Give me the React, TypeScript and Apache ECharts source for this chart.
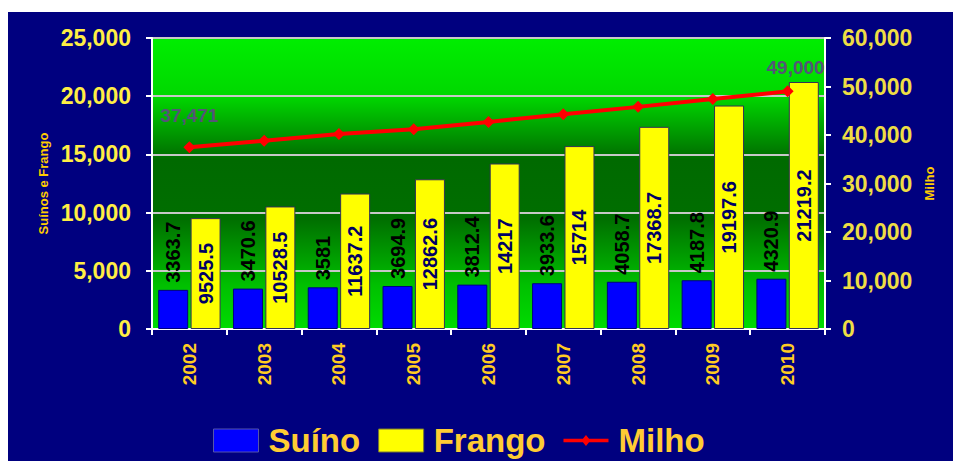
import React, { useEffect, useRef } from "react";
import * as echarts from "echarts";

const years = ["2002", "2003", "2004", "2005", "2006", "2007", "2008", "2009", "2010"];
const suino = [3363.7, 3470.6, 3581, 3694.9, 3812.4, 3933.6, 4058.7, 4187.8, 4320.9];
const frango = [9525.5, 10528.5, 11637.2, 12862.6, 14217, 15714, 17368.7, 19197.6, 21219.2];
const milho = [37471, 38800, 40200, 41200, 42700, 44300, 45800, 47400, 49000];

const fmt = (v: number) => Math.round(v).toString().replace(/\B(?=(\d{3})+(?!\d))/g, ",");

const SANS = '"Liberation Sans", Arial, sans-serif';

export default function App() {
  const ref = useRef<HTMLDivElement>(null);
  useEffect(() => {
    if (!ref.current) return;
    const chart = echarts.init(ref.current, undefined, { renderer: "svg" });
    chart.setOption({
      animation: false,
      backgroundColor: "#00007f",
      grid: {
        left: 144,
        top: 26,
        right: 128,
        bottom: 132,
        show: true,
        borderWidth: 0,
        backgroundColor: new echarts.graphic.LinearGradient(0, 0, 0, 1, [
          { offset: 0, color: "#00ee00" },
          { offset: 0.2, color: "#00d800" },
          { offset: 0.42, color: "#006a00" },
          { offset: 0.62, color: "#006e00" },
          { offset: 0.85, color: "#00c000" },
          { offset: 1, color: "#00dc00" },
        ]),
      },
      legend: {
        left: 200,
        top: 407,
        itemWidth: 45,
        itemHeight: 23,
        itemGap: 18,
        textStyle: {
          color: "#ffcc33",
          fontSize: 33,
          fontWeight: "bold",
          fontFamily: SANS,
          padding: [0, 0, 0, 5],
        },
        data: [
          { name: "Suíno", icon: "rect", itemStyle: { borderColor: "#5555aa", borderWidth: 1 } },
          { name: "Frango", icon: "rect", itemStyle: { borderColor: "#777733", borderWidth: 1 } },
          { name: "Milho", icon: "path://M0,10 L50,10 L50,14 L0,14 Z M25,6 L30,12 L25,18 L20,12 Z" },
        ],
      },
      xAxis: {
        type: "category",
        data: years,
        boundaryGap: true,
        axisLine: { lineStyle: { color: "#ffffff", width: 2 } },
        axisTick: { show: true, interval: 0, length: 6, lineStyle: { color: "#ffffff", width: 2 } },
        axisLabel: {
          rotate: 90,
          interval: 0,
          margin: 14,
          color: "#ffcc22",
          fontSize: 19,
          fontWeight: "bold",
          fontFamily: SANS,
        },
      },
      yAxis: [
        {
          type: "value",
          min: 0,
          max: 25000,
          interval: 5000,
          name: "Suínos e Frango",
          nameLocation: "middle",
          nameRotate: 90,
          nameGap: 79,
          nameTextStyle: { color: "#ffcc00", fontSize: 13, fontWeight: "bold", fontFamily: SANS },
          axisLine: { show: true, lineStyle: { color: "#ffffff", width: 2 } },
          axisTick: { show: true, length: 6, lineStyle: { color: "#ffffff", width: 2 } },
          splitLine: { show: true, lineStyle: { color: "#c8c8c8", width: 2 } },
          axisLabel: {
            margin: 21,
            color: "#ffee44",
            fontSize: 23,
            fontWeight: "bold",
            fontFamily: SANS,
            formatter: (v: number) => fmt(v),
          },
        },
        {
          type: "value",
          min: 0,
          max: 60000,
          interval: 10000,
          name: "Milho",
          nameLocation: "middle",
          nameRotate: 90,
          nameGap: 90,
          nameTextStyle: { color: "#ffcc00", fontSize: 13, fontWeight: "bold", fontFamily: SANS },
          axisLine: { show: true, lineStyle: { color: "#ffffff", width: 2 } },
          axisTick: { show: true, length: 6, lineStyle: { color: "#ffffff", width: 2 } },
          splitLine: { show: false },
          axisLabel: {
            margin: 17,
            color: "#eedd44",
            fontSize: 23,
            fontWeight: "bold",
            fontFamily: SANS,
            formatter: (v: number) => fmt(v),
          },
        },
      ],
      series: [
        {
          name: "Suíno",
          type: "bar",
          data: suino,
          barWidth: 30,
          barGap: "8%",
          itemStyle: { color: "#0000ff", borderColor: "#000080", borderWidth: 1 },
          label: {
            show: true,
            position: "top",
            rotate: 90,
            align: "left",
            verticalAlign: "middle",
            distance: 7,
            color: "#000000",
            fontSize: 20,
            fontWeight: "bold",
            fontFamily: SANS,
          },
        },
        {
          name: "Frango",
          type: "bar",
          data: frango,
          barWidth: 30,
          itemStyle: { color: "#ffff00", borderColor: "#333355", borderWidth: 1 },
          label: {
            show: true,
            position: "inside",
            rotate: 90,
            color: "#000066",
            fontSize: 20,
            fontWeight: "bold",
            fontFamily: SANS,
          },
        },
        {
          name: "Milho",
          type: "line",
          yAxisIndex: 1,
          data: milho.map((v, i) => ({
            value: v,
            label: {
              show: i === 0 || i === milho.length - 1,
              offset: i === milho.length - 1 ? [8, 8] : [0, 0],
            },
          })),
          symbol: "diamond",
          symbolSize: 12,
          itemStyle: { color: "#ff0000" },
          lineStyle: { color: "#ff0000", width: 4 },
          label: {
            position: "top",
            distance: 16,
            color: "#555577",
            fontSize: 19,
            fontWeight: "bold",
            fontFamily: SANS,
            formatter: (p: any) => fmt(p.value),
          },
          z: 5,
        },
      ],
    });
    return () => chart.dispose();
  }, []);
  return (
    <div
      ref={ref}
      style={{ position: "fixed", left: 8, top: 12, width: 945, height: 449 }}
    />
  );
}
